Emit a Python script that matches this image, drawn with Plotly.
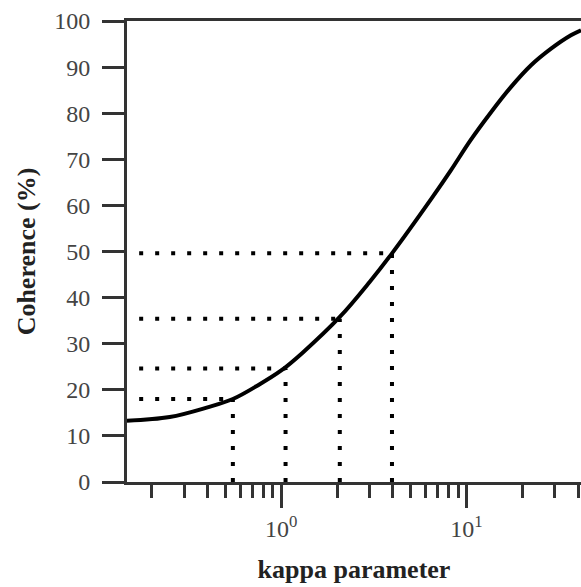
import math
import plotly.graph_objects as go

# Curve (kappa, coherence %)
kappa = [0.147, 0.25, 0.4, 0.548, 0.75, 1.0, 1.3, 2.07, 3.0, 3.96, 6.55, 8.23, 10.5, 13.5, 17.4, 22.3, 28.6, 36.6, 41.5]
coherence = [13.3, 14.1, 16.2, 18.0, 21.0, 24.2, 28.0, 35.8, 43.4, 49.6, 61.8, 67.6, 74.1, 80.1, 85.7, 90.4, 94.0, 96.9, 98.0]

# Dotted guide lines: vertical position (kappa) and horizontal level (coherence)
guide_kappa = [0.548, 1.055, 2.07, 3.96]
guide_level = [18.0, 24.6, 35.4, 49.6]
guide_start = 0.171

x_range = [0.147, 41.5]
y_ticks = list(range(0, 101, 10))
x_major = [1, 10]
x_major_text = ["10<sup>0</sup>", "10<sup>1</sup>"]
x_minor = [0.2, 0.3, 0.4, 0.5, 0.6, 0.7, 0.8, 0.9, 2, 3, 4, 5, 6, 7, 8, 9, 20, 30, 40]

FONT = "Liberation Serif"
AX = "#333333"

fig = go.Figure()

for k, lv in zip(guide_kappa, guide_level):
    fig.add_trace(go.Scatter(x=[guide_start, k], y=[lv, lv], mode="lines",
                             line=dict(color="black", width=4, dash="4px,12px"),
                             hoverinfo="skip", showlegend=False))
    fig.add_trace(go.Scatter(x=[k, k], y=[0, lv], mode="lines",
                             line=dict(color="black", width=4, dash="4px,12px"),
                             hoverinfo="skip", showlegend=False))

fig.add_trace(go.Scatter(x=kappa, y=coherence, mode="lines",
                         line=dict(color="black", width=4, shape="spline", smoothing=1.0),
                         showlegend=False))

fig.update_layout(
    width=581, height=587,
    margin=dict(l=127, r=0, t=21, b=105),
    paper_bgcolor="white", plot_bgcolor="white",
    font=dict(family=FONT, color="#444444", size=24),
    xaxis=dict(
        type="log",
        range=[math.log10(x_range[0]), math.log10(x_range[1])],
        showgrid=False, zeroline=False,
        showline=True, linecolor=AX, linewidth=3, mirror=True,
        tickmode="array", tickvals=x_major, ticktext=x_major_text,
        ticks="outside", ticklen=23, tickwidth=3, tickcolor=AX,
        tickfont=dict(family=FONT, size=24, color="#444444"),
        minor=dict(tickmode="array", tickvals=x_minor, ticks="outside",
                   ticklen=13, tickwidth=3, tickcolor=AX, showgrid=False),
        title=dict(text="<b>kappa parameter</b>", standoff=20,
                   font=dict(family=FONT, size=26, color="#222222")),
    ),
    yaxis=dict(
        range=[0, 100],
        showgrid=False, zeroline=False,
        showline=True, linecolor=AX, linewidth=3, mirror=False,
        tickmode="array", tickvals=y_ticks,
        ticks="outside", ticklen=22, tickwidth=3, tickcolor=AX,
        ticklabelstandoff=7,
        tickfont=dict(family=FONT, size=24, color="#444444"),
        title=dict(text="<b>Coherence (%)</b>", standoff=12,
                   font=dict(family=FONT, size=26, color="#222222")),
    ),
)

fig.write_html("out.html")
